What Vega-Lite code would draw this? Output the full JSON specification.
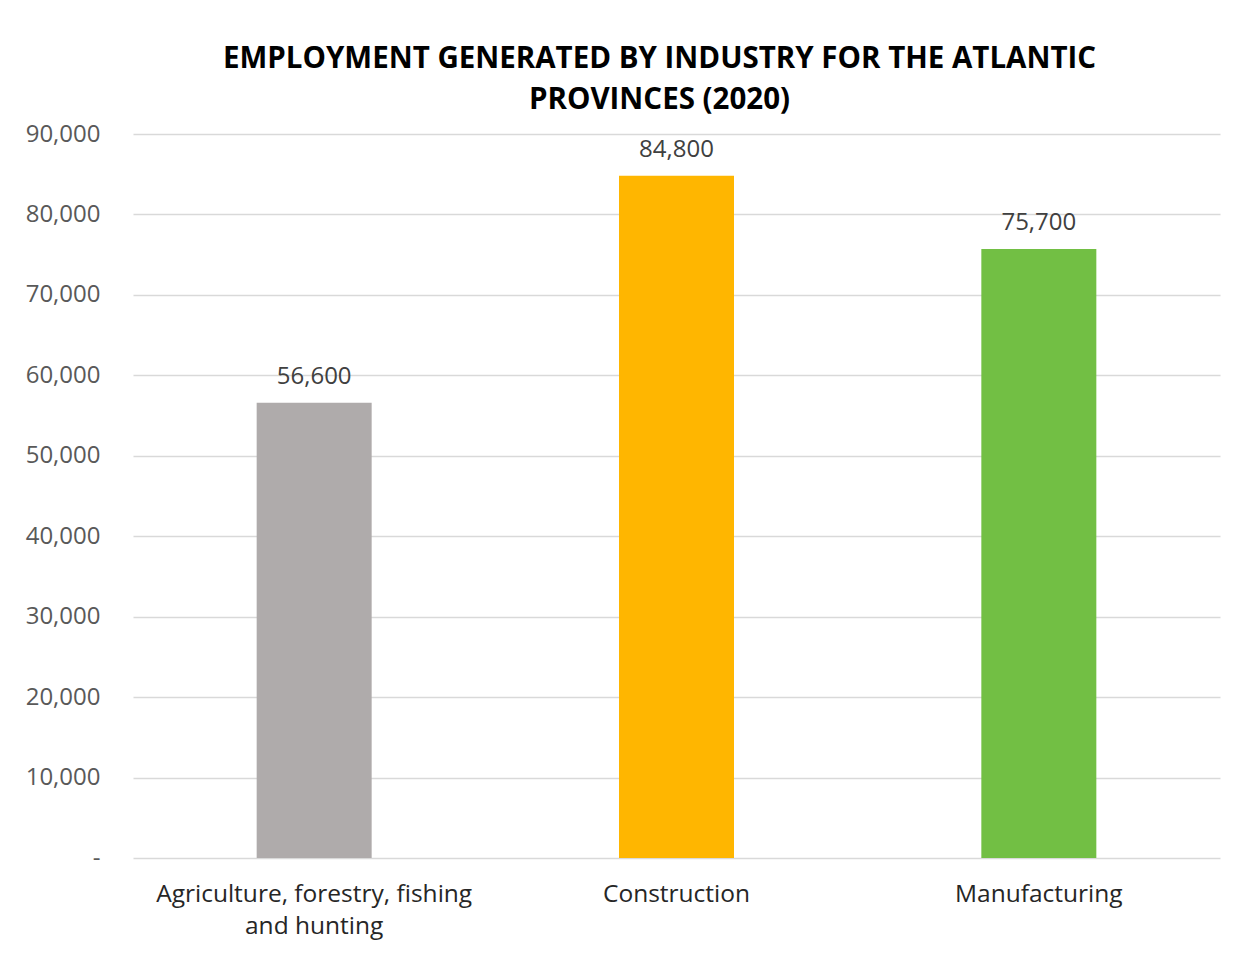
{
  "$schema": "https://vega.github.io/schema/vega-lite/v6.json",
  "autosize": {"type": "none"},
  "width": 1087,
  "height": 724,
  "padding": {"left": 133, "top": 134, "right": 30, "bottom": 99},
  "background": "white",
  "config": {
    "font": "Open Sans",
    "view": {"stroke": null}
  },
  "title": {
    "text": ["EMPLOYMENT GENERATED BY INDUSTRY FOR THE ATLANTIC", "PROVINCES (2020)"],
    "fontSize": 29.5,
    "fontWeight": "bold",
    "color": "#000000",
    "anchor": "middle",
    "dx": -17,
    "offset": 7,
    "lineHeight": 41,
    "font": "Open Sans"
  },
  "data": {
    "values": [
      {"industry": "Agriculture, forestry, fishing and hunting", "employment": 56600},
      {"industry": "Construction", "employment": 84800},
      {"industry": "Manufacturing", "employment": 75700}
    ]
  },
  "encoding": {
    "x": {
      "field": "industry",
      "type": "nominal",
      "sort": null,
      "title": null,
      "scale": {"paddingInner": 0, "paddingOuter": 0},
      "axis": {
        "labelAngle": 0,
        "labelFontSize": 24.5,
        "labelColor": "#262626",
        "labelPadding": 24,
        "labelLineHeight": 32,
        "labelExpr": "datum.label == 'Agriculture, forestry, fishing and hunting' ? ['Agriculture, forestry, fishing', 'and hunting'] : datum.label",
        "domain": false,
        "ticks": false,
        "grid": false,
        "labelLimit": 400
      }
    },
    "y": {
      "field": "employment",
      "type": "quantitative",
      "title": null,
      "scale": {"domain": [0, 90000], "nice": false},
      "axis": {
        "values": [0, 10000, 20000, 30000, 40000, 50000, 60000, 70000, 80000, 90000],
        "labelExpr": "datum.value == 0 ? '-' : format(datum.value, ',')",
        "labelFontSize": 24,
        "labelColor": "#595959",
        "labelPadding": 33,
        "domain": false,
        "ticks": false,
        "grid": true,
        "gridColor": "#D9D9D9",
        "gridWidth": 1.5
      }
    }
  },
  "layer": [
    {
      "mark": {"type": "bar", "width": 115},
      "encoding": {
        "color": {
          "field": "industry",
          "type": "nominal",
          "legend": null,
          "scale": {
            "domain": ["Agriculture, forestry, fishing and hunting", "Construction", "Manufacturing"],
            "range": ["#AFABAB", "#FFB600", "#72BF44"]
          }
        }
      }
    },
    {
      "mark": {"type": "text", "fontSize": 24, "color": "#404040", "baseline": "alphabetic", "dy": -19},
      "encoding": {
        "text": {"field": "employment", "type": "quantitative", "format": ","}
      }
    }
  ]
}
